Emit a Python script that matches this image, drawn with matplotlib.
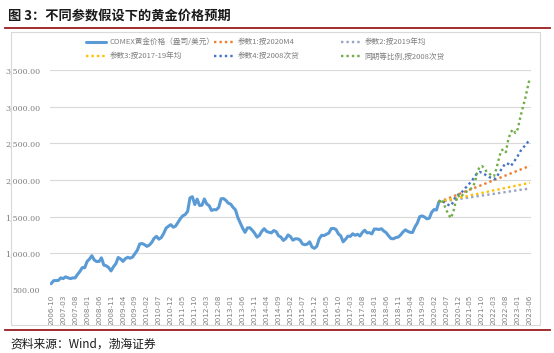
import matplotlib.pyplot as plt
import matplotlib.ticker as mticker
from matplotlib.patches import Rectangle
import numpy as np
import pandas as pd

plt.rcParams['font.family'] = ['Noto Sans CJK SC', 'DejaVu Sans']

# monthly categories 2006-10 .. 2023-06
months = pd.period_range('2006-10', '2023-06', freq='M').strftime('%Y-%m').tolist()

# COMEX gold, 2006-10 .. 2020-04 (USD/oz)
gold = [
    586, 627, 629,
    631, 665, 655, 679, 667, 655, 665, 665, 712, 754, 806, 803,
    889, 922, 968, 909, 888, 889, 939, 839, 830, 806, 760, 816,
    858, 943, 924, 890, 928, 946, 934, 949, 996, 1043, 1127, 1134,
    1118, 1095, 1113, 1148, 1205, 1232, 1193, 1215, 1271, 1343, 1370, 1391,
    1356, 1372, 1424, 1474, 1512, 1529, 1572, 1756, 1772, 1665, 1739, 1652,
    1656, 1742, 1673, 1650, 1585, 1596, 1594, 1626, 1744, 1747, 1722, 1684,
    1671, 1627, 1593, 1487, 1414, 1343, 1286, 1347, 1349, 1316, 1275, 1221,
    1244, 1300, 1336, 1299, 1287, 1279, 1311, 1296, 1239, 1222, 1176, 1200,
    1251, 1227, 1179, 1198, 1198, 1181, 1128, 1117, 1125, 1157, 1086, 1068,
    1097, 1199, 1246, 1242, 1260, 1276, 1337, 1340, 1326, 1266, 1238, 1157,
    1192, 1234, 1231, 1267, 1246, 1260, 1236, 1283, 1315, 1280, 1282, 1265,
    1331, 1331, 1325, 1335, 1304, 1281, 1238, 1202, 1198, 1215, 1221, 1250,
    1291, 1320, 1300, 1286, 1284, 1359, 1413, 1500, 1511, 1495, 1471, 1479,
    1560, 1597, 1591, 1700,
]

# projections 2020-04 .. 2023-06
p1 = [1700, 1713, 1726, 1738, 1751, 1764, 1777, 1790, 1803, 1816,
      1829, 1842, 1855, 1868, 1881, 1894, 1907, 1920, 1933, 1946,
      1959, 1972, 1985, 1998, 2011, 2024, 2037, 2050, 2063, 2076,
      2089, 2102, 2115, 2128, 2141, 2154, 2167, 2180, 2193]
p2 = [1700, 1705, 1710, 1715, 1719, 1724, 1729, 1734, 1739, 1744,
      1749, 1754, 1758, 1763, 1768, 1773, 1778, 1783, 1788, 1792,
      1797, 1802, 1807, 1812, 1817, 1822, 1827, 1831, 1836, 1841,
      1846, 1851, 1856, 1861, 1866, 1870, 1875, 1880, 1885]
p3 = [1700, 1707, 1714, 1721, 1728, 1735, 1741, 1748, 1755, 1762,
      1769, 1776, 1783, 1790, 1797, 1803, 1810, 1817, 1824, 1831,
      1838, 1845, 1852, 1859, 1865, 1872, 1879, 1886, 1893, 1900,
      1907, 1914, 1921, 1927, 1934, 1941, 1948, 1955, 1962]
p4 = [1700, 1730, 1700, 1680, 1660, 1650, 1700, 1780, 1800, 1810,
      1850, 1890, 1920, 1960, 2000, 2050, 2090, 2110, 2100, 2080,
      2060, 2040, 2030, 2010, 2030, 2090, 2140, 2190, 2230, 2220,
      2190, 2230, 2280, 2330, 2390, 2430, 2470, 2510, 2550]
p5 = [1700, 1740, 1680, 1600, 1530, 1480, 1560, 1700, 1790, 1760,
      1800, 1830, 1850, 1870, 1900, 1960, 2100, 2180, 2190, 2160,
      2110, 2090, 2060, 2050, 2150, 2280, 2400, 2420, 2380, 2550,
      2650, 2690, 2640, 2700, 2850, 2980, 3100, 3250, 3390]

labels = ['COMEX黄金价格（盎司/美元）', '参数1:按2020M4', '参数2:按2019年均',
          '参数3:按2017-19年均', '参数4:按2008次贷', '同期等比例,按2008次贷']
colors = ['#5B9BD5', '#ED7D31', '#9AA3C4', '#FFC000', '#4472C4', '#70AD47']

fig = plt.figure(figsize=(5.54, 3.53), dpi=100)
ax = fig.add_axes([50/554, 1-290/353, 481/554, 220/353])

x_hist = np.arange(len(gold))
x_proj = np.arange(len(gold) - 1, len(gold) - 1 + len(p1))

lines = []
l, = ax.plot(x_hist, gold, color=colors[0], lw=2.2, solid_capstyle='round')
lines.append(l)
for vals, c in zip([p1, p2, p3, p4, p5], colors[1:]):
    l, = ax.plot(x_proj, vals, color=c, lw=1.7, linestyle=(0, (1, 1.3)))
    lines.append(l)

ax.set_xlim(-0.5, len(months) - 0.5)
ax.set_ylim(500, 3500)
ax.yaxis.set_major_locator(mticker.MultipleLocator(500))
ax.yaxis.set_major_formatter(mticker.FuncFormatter(lambda v, p: f'{v:,.2f}'))
ax.set_xticks(range(0, len(months), 5))
ax.set_xticklabels(months[::5], rotation=90, fontsize=5.2, color='#7f7f7f',
                   family='DejaVu Sans')
ax.tick_params(axis='y', labelsize=5.8, colors='#7f7f7f', length=0, pad=7)
ax.tick_params(axis='x', length=0, pad=3)
for lab in ax.get_yticklabels():
    lab.set_family('DejaVu Serif')
ax.grid(axis='y', color='#d9d9d9', lw=0.8)
for s in ax.spines.values():
    s.set_visible(False)
ax.set_axisbelow(True)

# legend: three columns of two rows
col_x = [84, 212, 339]
for k, (i, j) in enumerate([(0, 3), (1, 4), (2, 5)]):
    leg = fig.legend([lines[i], lines[j]], [labels[i], labels[j]],
                     loc='upper left', bbox_to_anchor=(col_x[k]/554, 1-36/353),
                     frameon=False, fontsize=5.5, handlelength=2.6,
                     labelspacing=0.8, handletextpad=0.4,
                     labelcolor='#7f7f7f', borderaxespad=0, borderpad=0.3)

# frame, title, rules, source
fig.patches.append(Rectangle((11/554, 1-325/353), 529/554, 293/353,
                             transform=fig.transFigure, fill=False,
                             edgecolor='#d9d9d9', lw=0.8))
fig.text(8/554, 1-16/353, '图 3：不同参数假设下的黄金价格预期', fontsize=9.5,
         fontweight='bold', va='center', color='#1a1a1a')
fig.add_artist(plt.Line2D([5/554, 550/554], [1-28/353, 1-28/353],
                          color='#9b1b1f', lw=1.3))
fig.add_artist(plt.Line2D([5/554, 550/554], [1-330/353, 1-330/353],
                          color='#9b1b1f', lw=1.3))
fig.text(10/554, 1-344/353, '资料来源：Wind，渤海证券', fontsize=8.5,
         style='italic', va='center', color='#1a1a1a')

fig.savefig('out.png', dpi=100)
